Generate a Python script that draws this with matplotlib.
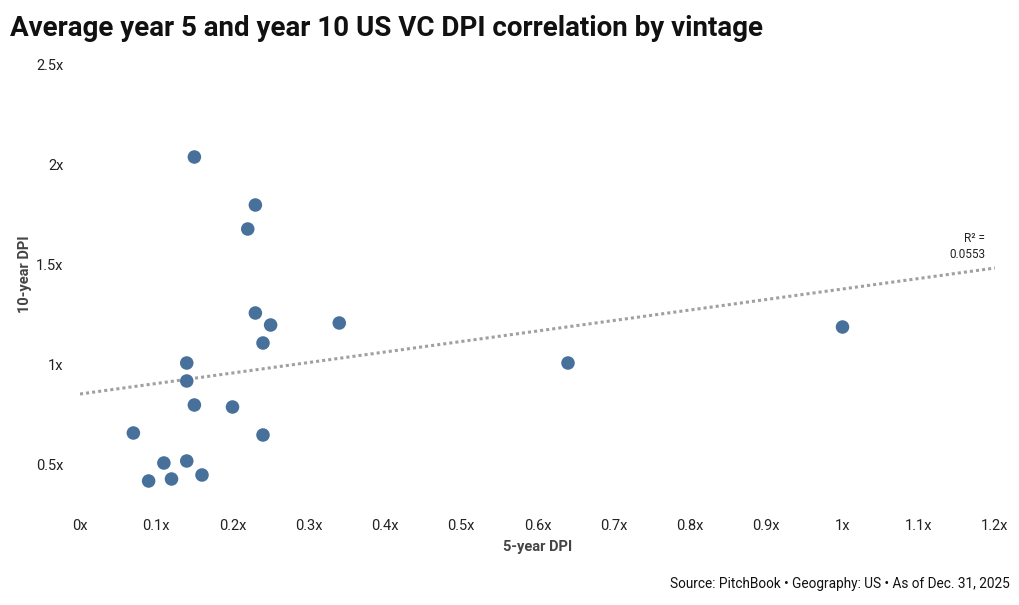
import numpy as np
import matplotlib
matplotlib.use("Agg")
import matplotlib.pyplot as plt

plt.rcParams["font.family"] = ["Roboto", "DejaVu Sans"]

# 5-year DPI vs 10-year DPI, one point per vintage
dpi_5yr = [0.15, 0.23, 0.22, 0.23, 0.25, 0.34, 0.24, 0.14, 0.14, 0.15,
           0.20, 0.07, 0.24, 0.11, 0.14, 0.09, 0.12, 0.16, 0.64, 1.00]
dpi_10yr = [2.04, 1.80, 1.68, 1.26, 1.20, 1.21, 1.11, 1.01, 0.92, 0.80,
            0.79, 0.66, 0.65, 0.51, 0.52, 0.42, 0.43, 0.45, 1.01, 1.19]
x_ticks = [0, 0.1, 0.2, 0.3, 0.4, 0.5, 0.6, 0.7, 0.8, 0.9, 1.0, 1.1, 1.2]
x_tick_labels = ["0x", "0.1x", "0.2x", "0.3x", "0.4x", "0.5x", "0.6x",
                 "0.7x", "0.8x", "0.9x", "1x", "1.1x", "1.2x"]
y_ticks = [0.5, 1.0, 1.5, 2.0, 2.5]
y_tick_labels = ["0.5x", "1x", "1.5x", "2x", "2.5x"]
# linear trend
trend_intercept = 0.855
trend_slope = 0.525
r_squared = "0.0553"

fig = plt.figure(figsize=(10.2, 6.05), dpi=100)
ax = fig.add_axes([80 / 1020, 100 / 605, 915 / 1020, 440 / 605])

tx = np.array([0, 1.2])
ax.plot(tx, trend_intercept + trend_slope * tx, ls=(0, (1, 1)), lw=2.2,
        color="#a0a0a0", zorder=1)
ax.scatter(dpi_5yr, dpi_10yr, s=95, color="#47709a", edgecolors="none", zorder=3)

ax.set_xlim(0, 1.2)
ax.set_ylim(0.3, 2.5)
ax.set_xticks(x_ticks, x_tick_labels)
ax.set_yticks(y_ticks, y_tick_labels)
ax.tick_params(length=0, labelsize=10.5, colors="#222222", pad=10)
ax.tick_params(axis="y", pad=12)
for s in ax.spines.values():
    s.set_visible(False)

ax.set_xlabel("5-year DPI", fontsize=10.5, fontweight="bold", color="#444444", labelpad=5)
ax.set_ylabel("10-year DPI", fontsize=10.5, fontweight="bold", color="#444444")
ax.yaxis.set_label_coords(-0.053, 0.525)

ax.text(1.187, 1.59, f"R² =\n{r_squared}", ha="right", va="center", fontsize=8.5,
        color="#222222", linespacing=1.3)

fig.text(10 / 1020, 1 - 28 / 605, "Average year 5 and year 10 US VC DPI correlation by vintage",
         fontsize=20, fontweight="bold", color="#111111", va="center", ha="left")
fig.text(1010 / 1020, 1 - 584 / 605,
         "Source: PitchBook \u2022 Geography: US \u2022 As of Dec. 31, 2025",
         fontsize=9.8, color="#111111", va="center", ha="right")

fig.savefig("out.png", dpi=100)
